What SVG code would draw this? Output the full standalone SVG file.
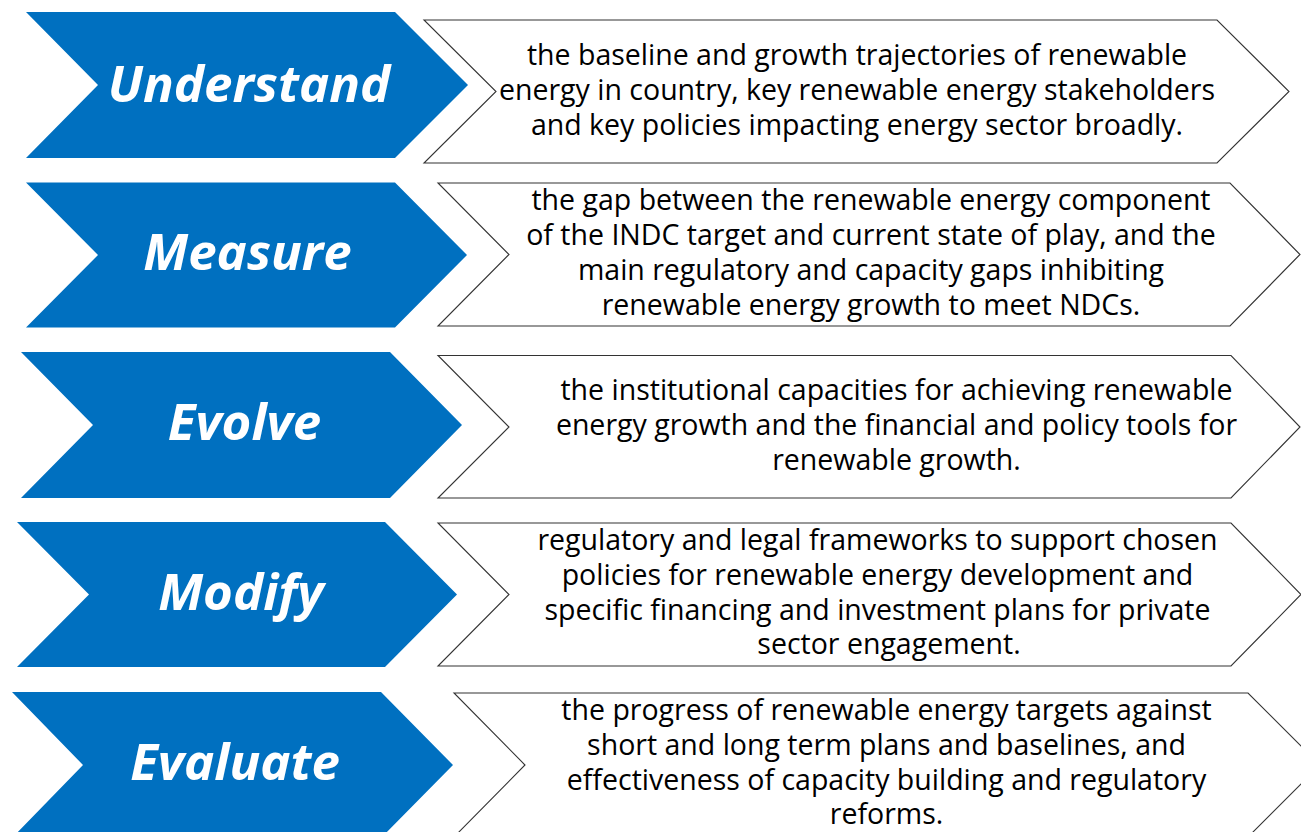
<svg xmlns="http://www.w3.org/2000/svg" width="1301" height="832" viewBox="0 0 1301 832">
<style>
.chev{fill:#0070C0;}
.lbl{font-family:"Open Sans","Noto Sans",sans-serif;font-weight:700;font-style:italic;font-size:51px;fill:#FFFFFF;text-anchor:middle;}
.box{fill:#FFFFFF;stroke:#333333;stroke-width:1.1;}
.desc{font-family:"Open Sans","Noto Sans",sans-serif;font-size:28.5px;fill:#000000;text-anchor:middle;}
</style>
<rect width="1301" height="832" fill="#FFFFFF"/>
<g id="step-understand">
<polygon class="chev" points="26,12 395,12 468,85 395,158 26,158 98,85"/>
<text class="lbl" x="249" y="102">Understand</text>
</g>
<g id="desc-understand">
<polygon class="box" points="424,20 1217,20 1289,91.5 1217,163 424,163 496,91.5"/>
<text class="desc" x="857" y="64.5">the baseline and growth trajectories of renewable</text>
<text class="desc" x="857" y="99.5">energy in country, key renewable energy stakeholders</text>
<text class="desc" x="857" y="134.5">and key policies impacting energy sector broadly.</text>
</g>
<g id="step-measure">
<polygon class="chev" points="26,182.5 395,182.5 467,255 395,327.5 26,327.5 98,255"/>
<text class="lbl" x="247.5" y="270">Measure</text>
</g>
<g id="desc-measure">
<polygon class="box" points="438,183 1230,183 1300,254.5 1230,326 438,326 509,254.5"/>
<text class="desc" x="871" y="210">the gap between the renewable energy component</text>
<text class="desc" x="871" y="245">of the INDC target and current state of play, and the</text>
<text class="desc" x="871" y="280">main regulatory and capacity gaps inhibiting</text>
<text class="desc" x="871" y="315">renewable energy growth to meet NDCs.</text>
</g>
<g id="step-evolve">
<polygon class="chev" points="21,352 390,352 462,425 390,498 21,498 93,425"/>
<text class="lbl" x="244.5" y="440">Evolve</text>
</g>
<g id="desc-evolve">
<polygon class="box" points="438,355.5 1231,355.5 1300,427 1231,498 438,498 509,427"/>
<text class="desc" x="896.5" y="400">the institutional capacities for achieving renewable</text>
<text class="desc" x="896.5" y="434.75">energy growth and the financial and policy tools for</text>
<text class="desc" x="896.5" y="469.5">renewable growth.</text>
</g>
<g id="step-modify">
<polygon class="chev" points="17,522 385,522 457,594.5 385,667 17,667 89,594.5"/>
<text class="lbl" x="241" y="610">Modify</text>
</g>
<g id="desc-modify">
<polygon class="box" points="438,523 1231,523 1301,594.5 1231,666 438,666 509,594.5"/>
<text class="desc" x="877.5" y="550">regulatory and legal frameworks to support chosen</text>
<text class="desc" x="877.5" y="584.75">policies for renewable energy development and</text>
<text class="desc" x="877.5" y="619.5">specific financing and investment plans for private</text>
<text class="desc" x="889" y="654.25">sector engagement.</text>
</g>
<g id="step-evaluate">
<polygon class="chev" points="12,692 381,692 453,765 381,838 12,838 83,765"/>
<text class="lbl" x="235" y="780">Evaluate</text>
</g>
<g id="desc-evaluate">
<polygon class="box" points="454,693 1248,693 1320,765 1248,837 454,837 525,765"/>
<text class="desc" x="886.5" y="720">the progress of renewable energy targets against</text>
<text class="desc" x="886.5" y="754.75">short and long term plans and baselines, and</text>
<text class="desc" x="886.5" y="789.5">effectiveness of capacity building and regulatory</text>
<text class="desc" x="886.5" y="824.25">reforms.</text>
</g>
</svg>
